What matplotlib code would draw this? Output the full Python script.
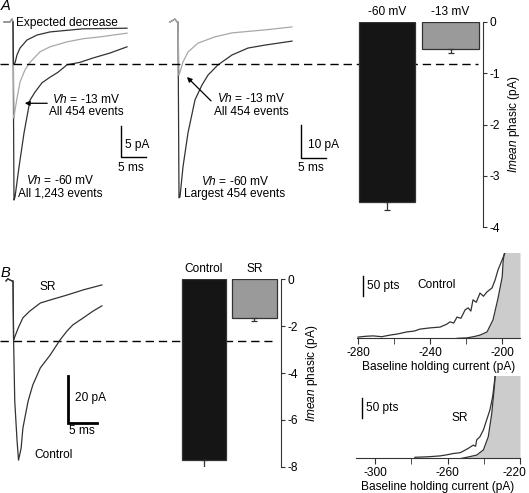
import matplotlib
matplotlib.use('Agg')
import matplotlib.pyplot as plt
from matplotlib.transforms import blended_transform_factory, ScaledTranslation
from matplotlib.ticker import MultipleLocator

plt.rcParams['font.family'] = ['Liberation Sans', 'DejaVu Sans']
plt.rcParams['mathtext.fontset'] = 'custom'
plt.rcParams['mathtext.it'] = 'Liberation Sans:italic'
plt.rcParams['mathtext.rm'] = 'Liberation Sans'
plt.rcParams['font.size'] = 8.6

# ---- data (ms, pA) ----
# A left: averaged events, Vh -60 (all 1,243), Vh -13 (all 454), expected decrease
t_a1_60 = [-1.8, -0.6, -0.2, 0.0, 0.2, 0.4, 1.2, 2.2, 3.4, 4.4, 5.8, 7.4, 9.0, 10.8, 13.4, 16.0, 19.4, 22.8]
i_a1_60 = [0, 0, 0.5, 0, -28.7, -28.2, -23.4, -17.9, -12.6, -11.3, -9.8, -8.9, -8.1, -6.9, -6.5, -5.8, -5.0, -4.0]
t_a1_13 = [-1.8, -0.6, -0.2, 0.0, 0.2, 0.4, 0.8, 1.4, 2.4, 3.4, 5.4, 7.4, 10.8, 14.0, 17.4, 22.8]
i_a1_13 = [0, 0, 0.5, 0, -15.5, -14.2, -12.3, -9.7, -7.7, -6.5, -4.8, -4.0, -3.2, -2.7, -2.4, -1.8]
t_exp = [0.0, 0.1, 0.4, 0.8, 1.4, 2.8, 4.8, 7.4, 14.0, 22.8]
i_exp = [0, -6.8, -6.6, -5.3, -4.2, -2.9, -2.1, -1.6, -1.1, -1.0]

# A middle: Vh -60 largest 454, Vh -13 all 454
t_a2_60 = [-1.6, -0.6, -0.2, 0.0, 0.2, 0.4, 1.0, 2.0, 3.4, 4.8, 6.0, 8.0, 10.8, 14.0, 17.4, 22.8]
i_a2_60 = [0, 0.9, 0, 0, -53.3, -53.0, -43.9, -33.6, -23.6, -19.1, -16.1, -13.0, -10.0, -7.9, -7.0, -5.8]
t_a2_13 = [-1.6, -0.6, -0.2, 0.0, 0.2, 0.4, 1.0, 2.0, 4.0, 7.4, 10.8, 17.4, 22.8]
i_a2_13 = [0, 0.9, 0, 0, -16.1, -15.2, -12.1, -9.1, -6.4, -4.5, -3.3, -2.4, -1.5]

# B: control vs SR
t_b_ctrl = [-1.2, -0.9, -0.2, 0.0, 0.1, 0.3, 0.7, 0.95, 1.4, 1.7, 2.6, 3.4, 4.7, 6.4, 8.1, 9.3, 10.3, 12.1, 13.8, 15.3]
i_b_ctrl = [0, 0.9, 0, 0, -25.1, -51.1, -68.1, -76.2, -71.1, -62.6, -51.1, -44.3, -37.0, -31.5, -25.1, -21.3, -18.7, -15.7, -12.8, -10.6]
t_b_sr = [-1.2, -0.9, -0.2, 0.0, 0.1, 0.3, 0.9, 1.7, 2.9, 4.7, 6.4, 9.3, 12.1, 15.3]
i_b_sr = [0, 0.9, 0, 0, -25.1, -23.8, -20.0, -15.7, -12.8, -9.4, -8.1, -6.0, -3.8, -1.7]

# bar charts: Imean phasic (pA)
bar_a_labels = ['-60 mV', '-13 mV']
bar_a_vals = [-3.51, -0.53]
bar_a_err = [0.15, 0.07]
bar_b_labels = ['Control', 'SR']
bar_b_vals = [-7.72, -1.67]
bar_b_err = [0.38, 0.11]
dash_a = -0.82
dash_b = -2.62

# histograms of baseline holding current
hc_x = [-280.2, -276, -271.8, -267, -262.4, -258, -253, -249, -245.7, -240.2, -234.6, -231, -229, -227,
        -225.2, -223, -220.7, -219, -217.5, -216.3, -214.5, -212.4, -210.5, -208.5, -205.7, -204, -202.4, -200.1, -197.9]
hc_y = [3, 5, 6, 4, 8, 11, 16, 18, 23, 26, 28, 35, 41, 38, 53, 50, 71, 76, 68, 96, 90, 113, 105, 116, 126, 146, 171, 196, 221]
hc_fit_x = [-225, -219.8, -216, -212.4, -208.5, -205.2, -202.4, -200.1, -199.5, -198.5]
hc_fit_y = [0, 1, 4, 8, 16, 46, 100, 153, 196, 221]
hs_x = [-278, -270, -264.1, -260, -256.8, -253, -251.3, -248.5, -245.8, -244.5, -243.9, -242.1, -240.2, -238.4, -236.6, -235.1, -234.2, -233.4]
hs_y = [2.5, 4, 6, 9, 12, 14, 18, 25, 33, 30, 46, 54, 71, 96, 121, 154, 187, 221]
hs_fit_x = [-252, -249.4, -243.9, -240.2, -237.5, -235.6, -234.3, -233.4, -232.5]
hs_fit_y = [0, 2.5, 8, 21, 54, 112, 171, 221, 260]
hc_ticks = [-280, -240, -200]
hs_ticks = [-300, -260, -220]

W, H = 529, 493
fig = plt.figure(figsize=(W / 100, H / 100), dpi=100)
DARK = '#333333'
LIGHT = '#a8a8a8'


def px_axes(x0, y0, x1, y1):
    ax = fig.add_axes([x0 / W, 1 - y1 / H, (x1 - x0) / W, (y1 - y0) / H])
    ax.patch.set_alpha(0)
    return ax


def bare(ax):
    for s in ax.spines.values():
        s.set_visible(False)
    ax.set_xticks([])
    ax.set_yticks([])


def vh(v, second):
    return r'$\mathit{Vh}$ = ' + v + '\n' + second


# ---------- A left ----------
ax = px_axes(0, 5, 160, 210)
bare(ax)
ax.set_xlim(-2.6, 29.4)
ax.set_ylim(-30.3, 2.74)
ax.plot(t_a1_60, i_a1_60, color=DARK, lw=0.9)
ax.plot(t_a1_13, i_a1_13, color=LIGHT, lw=0.9)
ax.plot(t_exp, i_exp, color=DARK, lw=0.9)
ax.text(0.6, -0.15, 'Expected decrease', ha='left', va='center')
ax.text(14.6, -13.5, vh('-13 mV', 'All 454 events'), ha='center', va='center', linespacing=1.05)
ax.annotate('', xy=(1.8, -13.1), xytext=(7.4, -13.1),
            arrowprops=dict(arrowstyle='-|>', color='black', lw=0.9, mutation_scale=7))
ax.text(9.5, -26.6, vh('-60 mV', 'All 1,243 events'), ha='center', va='center', linespacing=1.05)
ax.plot([21.6, 21.6, 26.6], [-16.8, -21.8, -21.8], color='black', lw=1.0)
ax.text(22.4, -19.8, '5 pA', ha='left', va='center')
ax.text(23.6, -23.5, '5 ms', ha='center', va='center')

# ---------- A middle ----------
ax = px_axes(165, 5, 335, 210)
bare(ax)
ax.set_xlim(-2.6, 31.4)
ax.set_ylim(-57.0, 5.15)
ax.plot(t_a2_60, i_a2_60, color=DARK, lw=0.9)
ax.plot(t_a2_13, i_a2_13, color=LIGHT, lw=0.9)
ax.text(14.7, -25.1, vh('-13 mV', 'All 454 events'), ha='center', va='center', linespacing=1.05)
ax.annotate('', xy=(1.4, -16.1), xytext=(7.0, -24.5),
            arrowprops=dict(arrowstyle='-|>', color='black', lw=0.9, mutation_scale=7))
ax.text(11.4, -50.1, vh('-60 mV', 'Largest 454 events'), ha='center', va='center', linespacing=1.05)
ax.plot([24.5, 24.5, 29.5], [-31.2, -41.2, -41.2], color='black', lw=1.0)
ax.text(26.0, -37.3, '10 pA', ha='left', va='center')
ax.text(26.6, -44.2, '5 ms', ha='center', va='center')


def bar_panel(box, labels, vals, errs, ylim, yticks, xlim, dash, dash_x1, label_y):
    ax = px_axes(*box)
    for s in ['left', 'top', 'bottom']:
        ax.spines[s].set_visible(False)
    ax.spines['right'].set_color(DARK)
    ax.yaxis.tick_right()
    ax.set_xticks([])
    ax.set_ylim(*ylim)
    ax.set_xlim(*xlim)
    ax.set_yticks(yticks)
    ax.set_yticklabels([str(v) for v in yticks])
    ax.tick_params(axis='y', direction='out', length=3, pad=2, color=DARK)
    ax.set_ylabel(r'$\mathit{Imean}$ phasic (pA)', rotation=90, labelpad=4)
    ax.yaxis.set_label_position('right')
    xs = list(range(len(vals)))
    ax.bar(xs, vals, width=0.89, color=['#151515', '#9a9a9a'], edgecolor=DARK, lw=0.9, zorder=3)
    ax.errorbar(xs, vals, yerr=[errs, [0] * len(errs)], fmt='none', ecolor=DARK,
                elinewidth=0.9, capsize=2.2, capthick=0.9, zorder=4)
    for x, lab in zip(xs, labels):
        ax.text(x, label_y, lab, ha='center', va='center')
    tr = blended_transform_factory(fig.transFigure, ax.transData)
    ax.plot([0, dash_x1 / W], [dash, dash], transform=tr, color='black', lw=1.0,
            dashes=(6, 3.5), clip_on=False, zorder=1)
    return ax


bar_panel((355, 22, 483, 227), bar_a_labels, bar_a_vals, bar_a_err, (-4, 0),
          [0, -1, -2, -3, -4], (-0.504, 1.51), dash_a, 478, 0.2)
bar_panel((178, 279.3, 281, 466.7), bar_b_labels, bar_b_vals, bar_b_err, (-8, 0),
          [0, -2, -4, -6, -8], (-0.517, 1.53), dash_b, 272, 0.44)

# ---------- B traces ----------
ax = px_axes(0, 268, 110, 470)
bare(ax)
ax.set_xlim(-2.24, 16.7)
ax.set_ylim(-80.4, 5.5)
ax.plot(t_b_ctrl, i_b_ctrl, color=DARK, lw=0.9)
ax.plot(t_b_sr, i_b_sr, color=DARK, lw=0.9)
ax.text(6.0, -2.6, 'SR', ha='center', va='center')
ax.text(6.9, -74.0, 'Control', ha='center', va='center')
ax.plot([9.4, 9.4, 14.4], [-40.4, -60.4, -60.4], color='black', lw=2.0, solid_joinstyle='miter')
ax.text(10.7, -49.8, '20 pA', ha='left', va='center')
ax.text(11.9, -63.8, '5 ms', ha='center', va='center')


def hist_panel(box, xlim, ylim, lx, ly, fx, fy, ticks, bar_x, bar_y0, name, name_xy):
    ax = px_axes(*box)
    for s in ['left', 'top', 'right']:
        ax.spines[s].set_visible(False)
    ax.spines['bottom'].set_color(DARK)
    ax.set_xlim(*xlim)
    ax.set_ylim(*ylim)
    ax.set_yticks([])
    ax.set_xticks(ticks)
    ax.set_xticklabels([str(t) for t in ticks])
    ax.xaxis.set_minor_locator(MultipleLocator(20))
    ax.tick_params(axis='x', which='both', direction='out', length=4, pad=2, color=DARK)
    ax.set_xlabel('Baseline holding current (pA)', labelpad=2)
    ax.fill_betweenx(fy, fx, xlim[1], color='#cccccc', lw=0, zorder=1)
    ax.plot(fx, fy, color=DARK, lw=0.9, zorder=2)
    ax.plot(lx, ly, color=DARK, lw=0.9, zorder=3)
    ax.plot([bar_x, bar_x], [bar_y0, bar_y0 + 50], color='black', lw=1.0)
    ax.text(bar_x + 2.4, bar_y0 + 25, '50 pts', ha='left', va='center')
    ax.text(name_xy[0], name_xy[1], name, ha='center', va='center')
    return ax


hist_panel((356.7, 253, 520, 338.3), (-280.9, -190.2), (0, 213), hc_x, hc_y, hc_fit_x, hc_fit_y,
           hc_ticks, -277.6, 105.8, 'Control', (-236.4, 133.3))
ax_hs = hist_panel((356, 376, 520, 458.3), (-310.5, -220), (0, 206), hs_x, hs_y, hs_fit_x, hs_fit_y,
                   hs_ticks, -307.3, 101.5, 'SR', (-253.1, 100.8))
# keep the last tick label inside the canvas
last = ax_hs.get_xticklabels()[-1]
last.set_transform(last.get_transform() + ScaledTranslation(-6 / 100, 0, fig.dpi_scale_trans))

# panel letters
fig.text(1 / W, 1 - 6 / H, 'A', fontsize=10.5, style='italic', ha='left', va='center')
fig.text(1 / W, 1 - 273 / H, 'B', fontsize=10.5, style='italic', ha='left', va='center')

fig.savefig('out.png', dpi=100)
